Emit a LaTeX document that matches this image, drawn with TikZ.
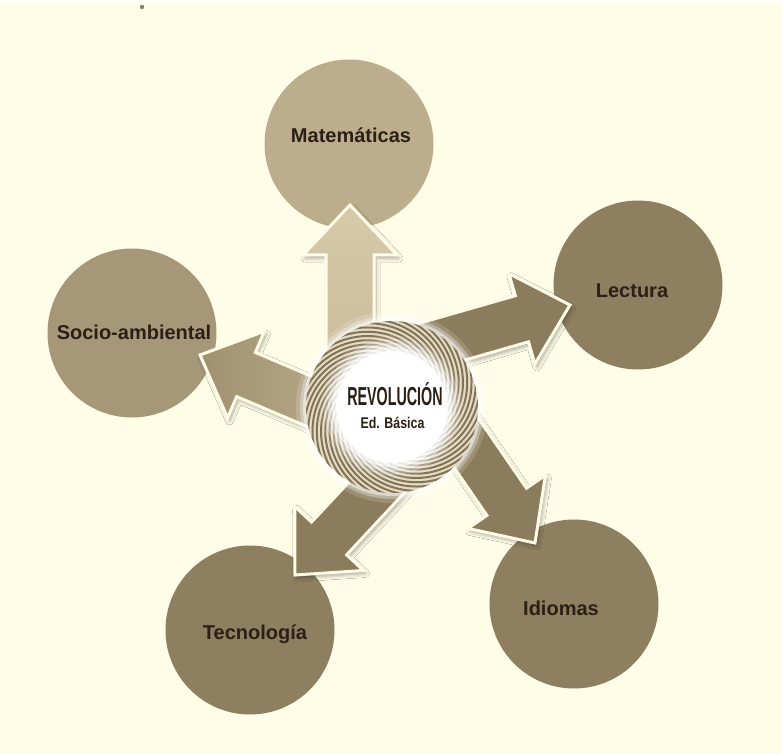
\documentclass[tikz,border=0pt]{standalone}
\usepackage{fontspec}
\setmainfont{Liberation Sans}
\usetikzlibrary{shadows.blur}
\definecolor{bg}{HTML}{FFFDE7}
\definecolor{outl}{HTML}{FFFBE6}
\definecolor{txt}{HTML}{2B2016}
\definecolor{cmat}{HTML}{BCAE8C}
\definecolor{csoc}{HTML}{A69779}
\definecolor{cdark}{HTML}{8D7F60}
\definecolor{adark}{HTML}{8A7C5C}
\definecolor{alightA}{HTML}{D6CAAA}
\definecolor{alightB}{HTML}{C4B695}
\definecolor{aleftA}{HTML}{C6B896}
\definecolor{aleftB}{HTML}{A09171}
\definecolor{swirlc}{HTML}{6F5F40}
\definecolor{swirll}{HTML}{D9CCAA}
\definecolor{dotc}{HTML}{8A8070}
\tikzset{
  topic/.style={circle, minimum size=169pt, inner sep=0pt},
  lbl/.style={anchor=base, text=txt, font=\bfseries\fontsize{20}{21}\selectfont},
  blockarrow/.style={draw=outl, line width=3pt, line join=miter,
    blur shadow={shadow xshift=2pt, shadow yshift=-3pt, shadow blur radius=4pt, shadow opacity=35}},
}
\newcommand{\myblockarrow}[3]{%
  \begin{scope}[shift={(#1)}, rotate=#2]
    \path[blockarrow, #3] (0,0) -- (-50,47) -- (-50,24) -- (-230,24) -- (-230,-24) -- (-50,-24) -- (-50,-47) -- cycle;
  \end{scope}}
\begin{document}
\begin{tikzpicture}[x=1pt,y=-1pt]
\useasboundingbox (0,0) rectangle (782,754);
\fill[bg] (0,0) rectangle (782,754);
\fill[white] (0,0) rectangle (782,2);
\fill[dotc] (142,7) circle (2.2);

% outer topic circles
\node[topic, fill=cmat] (mat) at (349,144) {};
\node[topic, fill=cdark] (lec) at (638,285) {};
\node[topic, fill=csoc] (soc) at (132,333) {};
\node[topic, fill=cdark] (tec) at (250,630) {};
\node[topic, fill=cdark] (idi) at (574,604) {};

% arrow tips
\coordinate (tmat) at (350,205);
\coordinate (tlec) at (570,305);
\coordinate (tsoc) at (200,355);
\coordinate (ttec) at (295,575);
\coordinate (tidi) at (535,543);

\myblockarrow{tidi}{-55.5}{fill=adark}
\myblockarrow{ttec}{227}{fill=adark}
\myblockarrow{tlec}{16}{fill=adark}
\myblockarrow{tsoc}{157}{left color=aleftB, right color=aleftA}
\myblockarrow{tmat}{90}{top color=alightA, bottom color=alightB}

% central swirl
\node[circle, minimum size=170pt, inner sep=0pt] (cen) at (392,407) {};
\begin{scope}[shift={(cen.center)}]
  \foreach \r/\o in {96/0.15,92/0.3,89/0.5} \fill[white, opacity=\o] (0,0) circle (\r);
  \fill[white] (0,0) circle (86);
  \begin{scope}
    \clip (0,0) circle (86);
    \foreach \a in {0,10,...,350} {
      \draw[swirll, line width=3.5pt, opacity=0.7] plot[domain=0:75, samples=20, smooth, variable=\t] ({\a+4+\t}:{89-0.45*\t});
      \draw[swirlc, line width=2pt, opacity=0.85] plot[domain=0:75, samples=20, smooth, variable=\t] ({\a+\t}:{89-0.45*\t});
    }
  \end{scope}
  \foreach \r/\o in {72/0.12,68/0.25,64/0.4,60/0.6,56/0.8,52/1} \fill[white, opacity=\o] (0,0) circle (\r);
\end{scope}

% labels
\node[lbl] (matL) at (351,143) {Matemáticas};
\node[lbl] (lecL) at (632,297) {Lectura};
\node[lbl] (socL) at (134,339) {Socio-ambiental};
\node[lbl] (tecL) at (255,639) {Tecnología};
\node[lbl] (idiL) at (561,615) {Idiomas};
\node[anchor=base, text=txt, font=\bfseries\fontsize{26}{26}\selectfont] (rev) at (395,405) {\scalebox{0.55}[1]{REVOLUCIÓN}};
\node[anchor=base, text=txt, font=\bfseries\fontsize{15.5}{16}\selectfont] (edb) at (392.5,428) {\scalebox{0.8}[1]{Ed. Básica}};
\end{tikzpicture}
\end{document}
